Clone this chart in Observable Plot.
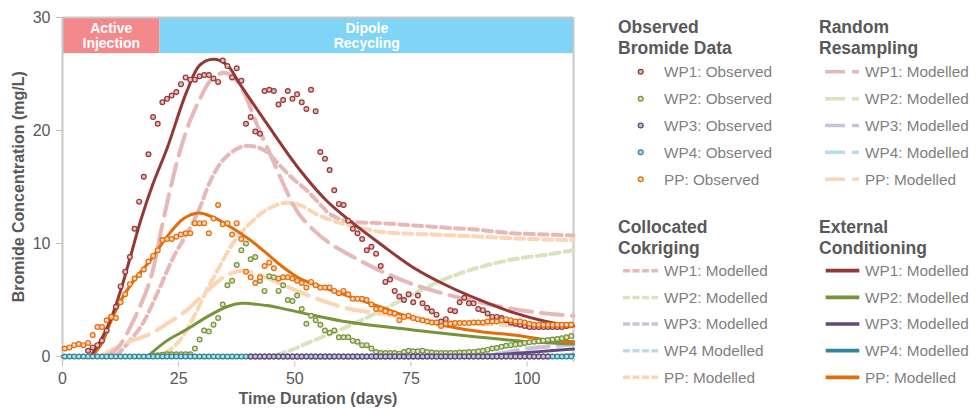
<!DOCTYPE html>
<html><head><meta charset="utf-8">
<script src="https://cdn.jsdelivr.net/npm/d3@7"></script>
<script src="https://cdn.jsdelivr.net/npm/@observablehq/plot@0.6"></script>
<style>
body{margin:0;background:#fff;font-family:"Liberation Sans",Arial,sans-serif;}
#wrap{position:relative;width:978px;height:408px;overflow:hidden;}
#wrap > svg{position:absolute;left:0;top:0;}
</style></head><body><div id="wrap"></div>
<script>
// ---------- DATA ----------
const seriesNames = ["WP1","WP2","WP3","WP4","PP"];
const darkColors  = ["#953735","#77933c","#604a7b","#31859c","#e46c0a"];
const lightColors = ["#e6b9b8","#d7e4bd","#ccc1da","#b7dee8","#fcd5b5"];

const xTicks = [0,25,50,75,100];
const yTicks = [0,10,20,30];

const phaseNames = ["Active\nInjection","Dipole\nRecycling"];
const phaseStart = [0,21];
const phaseEnd   = [21,110];
const phaseColors = ["#f4898c","#80d5f6"];

// Observed bromide (daily samples), first sample day + values
const wp1ObsStart = 5.5;
const wp1Obs = [0.5,0.8,1.0,1.4,2.3,3.5,4.4,6.2,7.5,8.8,
  11.3,13.7,15.9,17.9,21.2,20.6,22.5,22.8,23.1,23.4,
  24.1,24.7,24.5,24.5,24.8,24.9,24.9,24.6,24.3,26.2,
  25.7,24.7,25.5,24.4,20.6,21.2,19.9,19.7,23.5,23.6,
  23.5,22.3,22.7,23.5,22.8,23.2,22.5,21.9,23.6,21.7,
  18.1,17.5,16.5,14.7,13.5,13.4,12.0,11.3,10.9,10.4,
  9.4,9.7,9.1,8.0,6.6,6.8,5.8,5.3,5.0,5.5,
  4.8,5.4,4.7,4.3,4.0,3.7,3.1,3.3,4.1,4.0,
  4.8,5.2,4.7,4.7,4.2,4.1,3.8,3.5,3.5,3.4,
  3.2,3.0,2.9,2.8,2.7,2.6,2.6,2.6,2.6,2.6,
  2.6,2.6,2.6,2.7,2.8];
const wp2ObsStart = 19.5;
const wp2Obs = [0.1,0.1,0.15,0.2,0.2,0.2,0.2,0.2,0.2,
  0.7,1.5,2.3,2.2,2.8,3.4,4.6,6.3,6.7,8.1,
  9.4,10.0,8.6,8.8,6.7,5.8,7.1,7.0,5.8,6.3,
  5.0,4.9,5.4,4.2,2.9,3.6,3.2,2.8,2.3,2.1,
  2.3,1.7,1.7,1.7,1.4,1.3,1.0,1.0,0.7,0.4,
  0.3,0.3,0.3,0.3,0.25,0.4,0.5,0.45,0.45,0.5,
  0.4,0.35,0.3,0.3,0.3,0.3,0.3,0.35,0.35,0.4,
  0.4,0.45,0.5,0.6,0.7,0.75,0.85,0.95,1.0,1.05,
  1.1,1.2,1.25,1.3,1.35,1.4,1.45,1.5,1.55,1.6,
  1.7,1.8];
const wp3ObsStart = 40.5;
const wp3Obs = [0,0,0,0,0,0,0,0,0,0, 0,0,0,0,0,0,0,0,0,0,
  0,0,0,0,0,0,0,0,0,0, 0,0,0,0,0,0,0,0,0,0,
  0,0,0,0,0,0,0,0,0,0, 0,0,0,0,0,0,0,0,0,0, 0,0,0,0,0];
const wp4ObsStart = 0.5;
const wp4Obs = [0,0,0,0,0,0,0,0,0,0, 0,0,0,0,0,0,0,0,0,0,
  0,0,0,0,0,0,0,0,0,0, 0,0,0,0,0,0,0,0,0,0,
  0,0,0,0,0,0,0,0,0,0, 0,0,0,0,0,0,0,0,0,0,
  0,0,0,0,0,0,0,0,0,0, 0,0,0,0,0,0,0,0,0,0,
  0,0,0,0,0,0,0,0,0,0, 0,0,0,0,0,0,0,0,0,0,
  0,0,0,0,0,0,0,0,0,0];
const ppObsStart = 0.5;
const ppObs = [0.7,0.8,1.0,1.1,1.0,1.2,1.9,2.6,2.6,3.2,
  3.5,3.4,4.8,5.5,6.4,6.9,7.2,7.7,8.4,8.9,
  9.4,10.3,10.4,10.4,10.6,10.8,10.9,10.9,11.8,11.8,
  11.8,10.9,12.2,13.4,11.7,11.8,10.8,11.8,10.4,7.5,
  7.0,6.5,7.0,8.0,8.3,7.8,6.9,7.0,7.0,6.9,
  6.7,6.5,6.1,6.6,6.3,6.1,6.1,6.1,5.8,5.6,
  5.8,5.5,5.1,5.1,5.1,5.0,4.6,4.2,4.2,4.0,
  3.9,3.8,3.2,3.5,3.6,3.4,3.3,3.2,3.1,3.0,
  3.0,2.7,2.9,2.9,2.95,2.95,2.95,2.95,3.0,3.0,
  3.0,3.1,3.1,3.1,3.2,3.3,3.2,3.1,3.1,3.0,
  2.9,2.8,2.8,2.8,2.8,2.8,2.8,2.8,2.8,2.8];

// External Conditioning (solid) [day, mg/L]
const ecWP1 = [[6,0],[8.2,1.4],[10.3,3.2],[12.5,5.8],[14.6,8.8],[16.8,12.0],[19.5,15.3],[22.5,18.4],[26.8,23.5],[29.6,25.8],[32.5,26.3],[35.4,25.8],[38.2,24.1],[44,20.6],[51.1,16.5],[56.8,13.8],[61.9,12.0],[68.3,10.0],[75.4,7.9],[82.6,6.3],[89.8,5.0],[96.9,3.9],[104.1,3.1],[110,2.7]];
const ecWP2 = [[18.3,0],[22.5,1.4],[26.8,2.4],[31.1,3.5],[35.4,4.4],[38.5,4.7],[44,4.5],[51.1,3.9],[61.5,3.05],[75.4,2.35],[89.8,1.7],[100.5,1.3],[110,1.1]];
const ecWP3 = [[0,0],[85,0],[90,0.1],[95,0.2],[100,0.35],[105,0.5],[110,0.65]];
const ecWP4 = [[0,0],[100,0],[105,0.05],[110,0.15]];
const ecPP  = [[6.3,0],[8.5,1.2],[10.3,3.0],[12.5,4.9],[15.3,6.7],[18.9,8.5],[22.5,10.6],[26.1,12.2],[29.3,12.7],[32.5,12.3],[36.8,11.3],[40.4,10.3],[44,9.1],[47.5,7.9],[51.1,6.9],[54,6.4],[61.1,5.4],[68.3,4.4],[75.4,3.4],[82.6,2.7],[89.8,2.2],[97,1.9],[104.1,1.5],[110,1.3]];

// Random Resampling (long dash)
const rrWP1 = [[9.6,0],[12,0.8],[15.3,3.2],[18.9,6.8],[21.4,11.5],[23.2,14.8],[25.3,18.2],[27.5,20.9],[29.6,22.8],[31.8,24.4],[34.6,25.1],[36.8,24.7],[38.9,23.5],[41.8,20.6],[44.7,17.9],[47.5,15.3],[49.7,13.4],[51.1,12.5],[54,11.2],[57.6,10.0],[62.6,8.8],[68.3,7.6],[75.4,6.4],[82.6,5.5],[89.8,4.8],[97,4.2],[104.1,3.8],[110,3.6]];
const rrWP2 = [[20,0],[110,0]];
const rrWP3 = [[0,0],[88,0],[92,0.15],[96,0.4],[100,0.7],[105,0.9],[110,1.05]];
const rrWP4 = [[0,0],[110,0]];
const rrPP  = [[8.2,0],[11.7,0.8],[15,1.4],[18.9,2.0],[22.5,2.9],[26.8,4.1],[31.1,5.8],[35.4,7.2],[38.9,7.6],[42.5,7.2],[46.1,6.6],[51.1,5.7],[56.8,4.8],[61.9,4.2],[68.3,3.8],[75,3.4],[82,3.1],[90,2.9],[100,2.7],[110,2.6]];

// Collocated Cokriging (short dash)
const ckWP1 = [[11.5,0],[16.8,2.6],[20.3,5.5],[23.9,8.8],[27.5,11.4],[29.6,13.2],[31.8,15.5],[34.6,17.4],[38.2,18.5],[41.1,18.6],[44,18.1],[46.8,16.9],[49.7,15.7],[52.6,14.7],[55.4,13.5],[57.6,12.6],[61.1,12.0],[68.3,11.8],[75.4,11.6],[82.6,11.4],[89.8,11.2],[97,10.9],[104.1,10.8],[110,10.7]];
const ckWP2 = [[40,0],[46.5,0.2],[54,1.4],[61.1,2.6],[68.3,4.0],[75.4,5.5],[82.6,6.9],[89.8,7.9],[97,8.6],[104.1,9.0],[110,9.4]];
const ckWP3 = [[0,0],[110,0]];
const ckWP4 = [[0,0],[110,0]];
const ckPP  = [[19,0],[22,0.3],[25,1.3],[28,3.3],[31,5.8],[34,8.1],[37,10.2],[40.4,11.8],[44,13.0],[48,13.6],[51.1,13.4],[54.7,12.6],[58.3,12.0],[61.9,11.6],[69,11.0],[80,10.8],[89.8,10.6],[100,10.4],[110,10.3]];

const obsLabels = ["WP1: Observed","WP2: Observed","WP3: Observed","WP4: Observed","PP: Observed"];
const rrLabels  = ["WP1: Modelled","WP2: Modelled","WP3: Modelled","WP4: Modelled","PP: Modelled"];
const ckLabels  = ["WP1: Modelled","WP2: Modelled","WP3: Modelled","WP4 Modelled","PP: Modelled"];
const ecLabels  = ["WP1: Modelled","WP2: Modelled","WP3: Modelled","WP4: Modelled","PP: Modelled"];

// ---------- BUILD ----------
const FONT = '"Liberation Sans", Arial, sans-serif';
const obsSets = [[wp1ObsStart,wp1Obs],[wp2ObsStart,wp2Obs],[wp3ObsStart,wp3Obs],[wp4ObsStart,wp4Obs],[ppObsStart,ppObs]];
const obsTables = obsSets.map(([s,vals],k)=>vals.map((v,i)=>({series:seriesNames[k],day:s+i,value:v})));
const toRows = (arr)=>arr.map(([d,v])=>({day:d,value:v}));
const ec=[ecWP1,ecWP2,ecWP3,ecWP4,ecPP].map(toRows);
const rr=[rrWP1,rrWP2,rrWP3,rrWP4,rrPP].map(toRows);
const ck=[ckWP1,ckWP2,ckWP3,ckWP4,ckPP].map(toRows);
const phases = phaseNames.map((n,i)=>({name:n,start:phaseStart[i],end:phaseEnd[i],color:phaseColors[i]}));

const marks = [];
marks.push(Plot.rect(phases,{x1:"start",x2:"end",y1:26.8,y2:30,fill:"color"}));
marks.push(Plot.text(phases,{x:d=>(d.start+d.end)/2,y:28.4,text:"name",fill:"white",fontWeight:"bold",fontSize:14,lineHeight:1.12}));
marks.push(Plot.ruleY([30],{stroke:"#c8c8c8",strokeWidth:2}));
marks.push(Plot.ruleX([0,110],{y1:-0.5,y2:30,stroke:"#c8c8c8",strokeWidth:2}));
const order=[2,3,1,4,0];
order.forEach(k=>marks.push(Plot.line(ck[k],{x:"day",y:"value",stroke:lightColors[k],strokeWidth:4,strokeDasharray:"9,5",curve:"catmull-rom"})));
order.forEach(k=>marks.push(Plot.line(rr[k],{x:"day",y:"value",stroke:lightColors[k],strokeWidth:4,strokeDasharray:"22,9",curve:"catmull-rom"})));
order.forEach(k=>marks.push(Plot.line(ec[k],{x:"day",y:"value",stroke:darkColors[k],strokeWidth:3,curve:"catmull-rom"})));
[0,1,3,2,4].forEach(k=>marks.push(Plot.dot(obsTables[k],{x:"day",y:"value",r:2.4,stroke:darkColors[k],fill:lightColors[k],strokeWidth:1.2})));
marks.push(Plot.axisY({ticks:yTicks,tickSize:6,tickPadding:6,stroke:"#bfbfbf",fill:"#595959",fontSize:16,label:null}));
marks.push(Plot.axisX({ticks:xTicks,tickSize:5,tickPadding:6,stroke:"#bfbfbf",fill:"#595959",fontSize:16,label:null}));
marks.push(Plot.text(["Bromide Concentration (mg/L)"],{frameAnchor:"left",textAnchor:"middle",lineAnchor:"middle",text:d=>d,rotate:-90,dx:-44,dy:-3,fontWeight:"bold",fontSize:16,fill:"#595959"}));
marks.push(Plot.text(["Time Duration (days)"],{frameAnchor:"bottom",textAnchor:"middle",text:d=>d,dy:42,fontWeight:"bold",fontSize:16,fill:"#595959"}));

const chart = Plot.plot({
  width:590,height:408,marginLeft:62,marginRight:17,marginTop:17,marginBottom:46.4,
  x:{domain:[0,110],label:null},
  y:{domain:[-0.5,30],label:null},
  style:{fontFamily:FONT,fontSize:"16px",color:"#595959",background:"transparent",overflow:"visible"},
  marks
});
const wrap=document.getElementById("wrap");
wrap.appendChild(chart);

// ---------- LEGEND ----------
const lg = d3.select(wrap).append("svg").attr("width",978).attr("height",408)
  .style("font-family",FONT).style("pointer-events","none");
function title(x,yb,lines){
  lines.forEach((t,i)=>lg.append("text").attr("x",x).attr("y",yb+i*21).attr("fill","#595959")
    .attr("font-size",17.5).attr("font-weight","bold").text(t));
}
function items(textX,rows,labels,swatch){
  labels.forEach((t,i)=>{
    const cy=rows[i];
    swatch(i,cy);
    lg.append("text").attr("x",textX).attr("y",cy+5.4).attr("fill","#7f7f7f").attr("font-size",15.3).text(t);
  });
}
const rowsTop=[71.7,98.7,125.5,152.3,179.2];
const rowsBot=[270.7,297.4,324,350.7,377.3];
title(618,33.3,["Observed","Bromide Data"]);
items(664,rowsTop,obsLabels,(k,cy)=>lg.append("circle").attr("cx",640.7).attr("cy",cy).attr("r",2.4)
  .attr("stroke",darkColors[k]).attr("fill",lightColors[k]).attr("stroke-width",1.3));
title(819,33.3,["Random","Resampling"]);
items(865,rowsTop,rrLabels,(k,cy)=>lg.append("line").attr("x1",825).attr("x2",859).attr("y1",cy).attr("y2",cy)
  .attr("stroke",lightColors[k]).attr("stroke-width",3.5).attr("stroke-dasharray","20,7"));
title(618,233.3,["Collocated","Cokriging"]);
items(664,rowsBot,ckLabels,(k,cy)=>lg.append("line").attr("x1",623).attr("x2",658).attr("y1",cy).attr("y2",cy)
  .attr("stroke",lightColors[k]).attr("stroke-width",3.5).attr("stroke-dasharray","7,2.5"));
title(819,233.3,["External","Conditioning"]);
items(865,rowsBot,ecLabels,(k,cy)=>lg.append("line").attr("x1",825.7).attr("x2",859.3).attr("y1",cy).attr("y2",cy)
  .attr("stroke",darkColors[k]).attr("stroke-width",3.7));
</script></body></html>
